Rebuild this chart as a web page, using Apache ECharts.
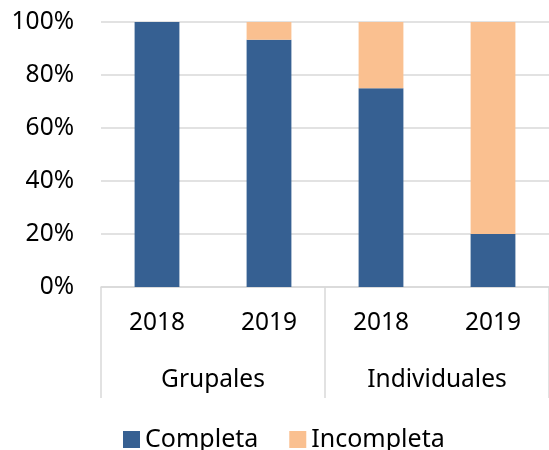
<!DOCTYPE html>
<html>
<head>
<meta charset="utf-8">
<script src="https://cdn.jsdelivr.net/npm/echarts@6/dist/echarts.min.js"></script>
<style>
  html, body { margin: 0; padding: 0; background: #fff; }
  #chart { width: 549px; height: 450px; }
</style>
</head>
<body>
<div id="chart"></div>
<script>
// chart values
const years = ['2018', '2019', '2018', '2019']
const groups = ['Grupales', 'Individuales']
const completa = [100, 93.3, 75, 20]
const incompleta = [0, 6.7, 25, 80]
const yTicks = [0, 20, 40, 60, 80, 100]

const FONT = 'Noto Sans'
const TEXT = '#000000'
const LINE = '#d9d9d9'

const chart = echarts.init(document.getElementById('chart'))

const option = {
  animation: false,
  color: ['#366092', '#fac090'],
  textStyle: { fontFamily: FONT },
  legend: {
    top: 427,
    left: 123,
    padding: 0,
    itemWidth: 17,
    itemHeight: 17,
    itemGap: 31,
    icon: 'rect',
    textStyle: { fontSize: 25, color: TEXT, fontFamily: FONT },
    data: ['Completa', 'Incompleta'],
  },
  // the plot runs just past the right edge of the picture
  grid: { left: 101, right: -2, top: 22, bottom: 163 },
  xAxis: [
    {
      type: 'category',
      data: years,
      axisLine: { show: true, lineStyle: { color: LINE, width: 1.5 } },
      axisTick: { show: false },
      axisLabel: { fontSize: 24.5, color: TEXT, margin: 24, fontFamily: FONT },
    },
    {
      type: 'category',
      position: 'bottom',
      data: groups,
      axisLine: { show: false },
      axisTick: {
        show: true,
        interval: 0,
        length: 111,
        lineStyle: { color: LINE, width: 1.5 },
      },
      axisLabel: { fontSize: 24.5, color: TEXT, margin: 81, fontFamily: FONT },
    },
  ],
  yAxis: {
    type: 'value',
    min: yTicks[0],
    max: yTicks[yTicks.length - 1],
    interval: yTicks[1] - yTicks[0],
    axisLine: { show: false },
    axisTick: { show: false },
    splitLine: { show: true, lineStyle: { color: LINE, width: 1.5 } },
    axisLabel: {
      fontSize: 24.5,
      color: TEXT,
      margin: 27,
      fontFamily: FONT,
      formatter: '{value}%',
    },
  },
  series: [
    {
      name: 'Completa',
      type: 'bar',
      stack: 'total',
      barWidth: '40%',
      data: completa,
    },
    {
      name: 'Incompleta',
      type: 'bar',
      stack: 'total',
      barWidth: '40%',
      data: incompleta,
    },
  ],
}

chart.setOption(option)
</script>
</body>
</html>
